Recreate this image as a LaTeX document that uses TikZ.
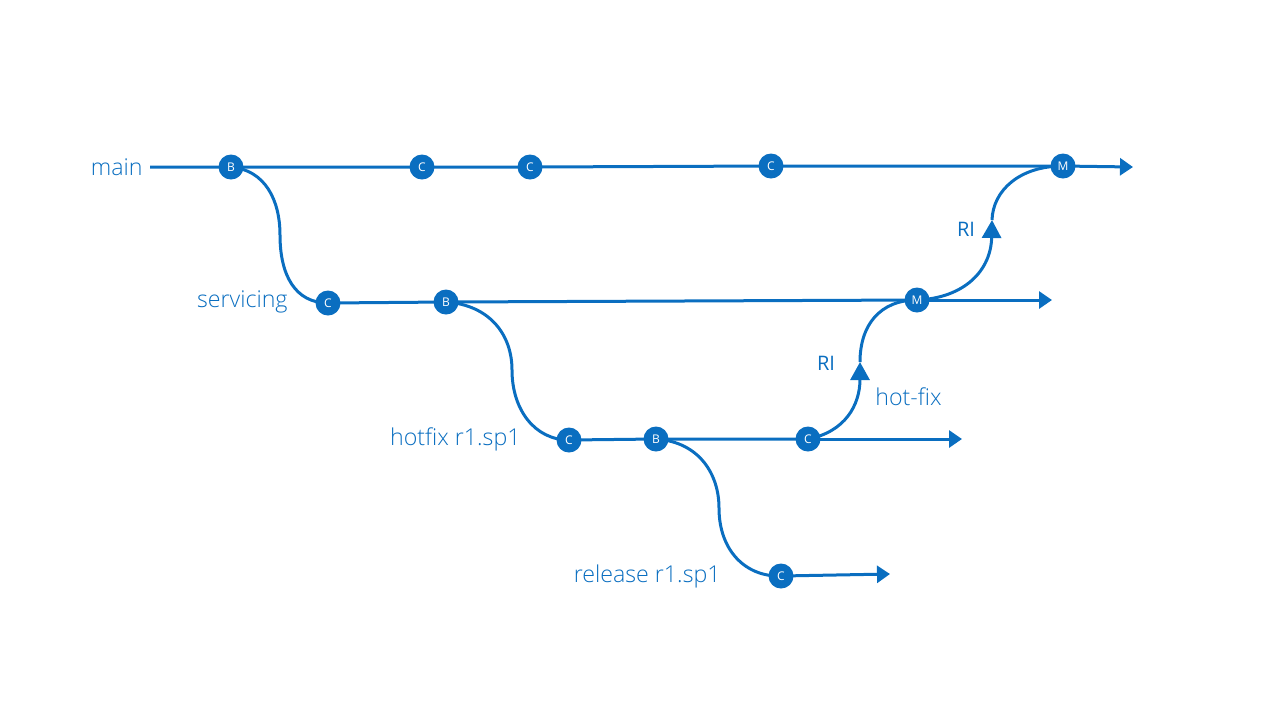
\documentclass[tikz,border=0pt]{standalone}
\usepackage{fontspec}
\setmainfont{Open Sans}
\newfontfamily\lightfont{Open Sans Light}
\usetikzlibrary{arrows.meta,backgrounds}
\definecolor{gitblue}{HTML}{0A6EC0}
\tikzset{
  commit/.style={circle,fill=gitblue,draw=none,minimum size=12.5pt,inner sep=0pt,text=white,font=\fontsize{6}{7}\selectfont},
  branch/.style={draw=gitblue,line width=1.5pt},
  tipped/.style={branch,-{Triangle[length=6.5pt,width=8.5pt]}},
  ritip/.style={branch,-{Triangle[length=9pt,width=9.5pt]}},
  lbl/.style={text=gitblue,inner sep=0pt,font=\lightfont\fontsize{11.6}{14}\selectfont},
  rilbl/.style={text=gitblue,font=\fontsize{10}{12}\selectfont}
}
\begin{document}
\begin{tikzpicture}[x=0.5pt,y=-0.5pt]
\useasboundingbox (0,0) rectangle (1280,720);
% main
\coordinate (ms) at (150,167);
\coordinate (me) at (1133,167);
\node[commit] (mB) at (231,167) {B};
\node[commit] (mC1) at (422,167) {C};
\node[commit] (mC2) at (530,167) {C};
\node[commit] (mC3) at (771,166) {C};
\node[commit] (mM) at (1063,166) {M};
% servicing
\coordinate (se) at (1052,300);
\node[commit] (sC) at (328,303) {C};
\node[commit] (sB) at (446,302) {B};
\node[commit] (sM) at (917,300) {M};
% hotfix
\coordinate (he) at (962,439);
\node[commit] (hC1) at (569,440) {C};
\node[commit] (hB) at (656,439) {B};
\node[commit] (hC2) at (808,439) {C};
% release
\coordinate (re) at (890,574);
\node[commit] (rC) at (781,576) {C};
% RI arrow tips
\coordinate (ri1) at (860,362);
\coordinate (ri2) at (992,220);
\coordinate (v1) at (280,235);
\coordinate (v2) at (512,370);
\coordinate (v3) at (719,508);

\begin{scope}[on background layer]
\draw[branch] (ms) -- (mB.center) -- (mC1.center) -- (mC2.center) -- (mC3.center) -- (mM.center);
\draw[tipped] (mM.center) -- (me);
\draw[branch] (sC.center) -- (sB.center) -- (sM.center);
\draw[tipped] (sM.center) -- (se);
\draw[branch] (hC1.center) -- (hB.center) -- (hC2.center);
\draw[tipped] (hC2.center) -- (he);
\draw[tipped] (rC.center) -- (re);
% branch curves
\draw[branch] (mB.center) .. controls (265,170) and (280,200) .. (v1) .. controls (280,275) and (295,303) .. (sC.center);
\draw[branch] (sB.center) .. controls (490,305) and (512,335) .. (v2) .. controls (512,410) and (535,440) .. (hC1.center);
\draw[branch] (hB.center) .. controls (700,442) and (719,475) .. (v3) .. controls (719,550) and (745,577) .. (rC.center);
% merges
\draw[ritip] (hC2.center) .. controls (845,432) and (860,405) .. (ri1);
\draw[branch] (ri1) .. controls (860,325) and (880,300) .. (sM.center);
\draw[ritip] (sM.center) .. controls (965,298) and (991,270) .. (ri2);
\draw[branch] (ri2) .. controls (993,190) and (1020,166) .. (mM.center);
\end{scope}

% labels
\node[lbl,anchor=east] (lmain) at (143,167) {main};
\node[lbl,anchor=east] (lserv) at (288,302) {servicing};
\node[lbl,anchor=east] (lhot) at (521,439) {hotfix r1.sp1};
\node[lbl,anchor=east] (lrel) at (721,576) {release r1.sp1};
\node[lbl,anchor=west] (lhf) at (875,397) {hot-fix};
\node[rilbl] (lri1) at (826,363) {RI};
\node[rilbl] (lri2) at (966,229) {RI};
\end{tikzpicture}
\end{document}
